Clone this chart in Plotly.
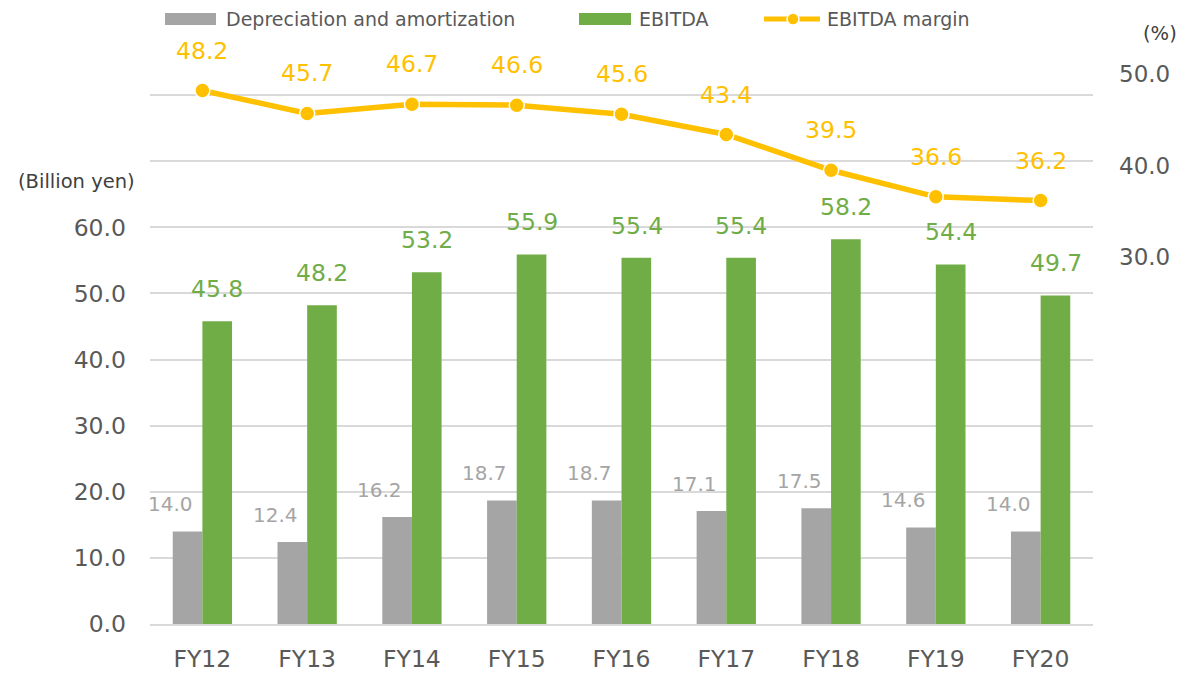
import plotly.graph_objects as go

categories = ["FY12", "FY13", "FY14", "FY15", "FY16", "FY17", "FY18", "FY19", "FY20"]
dep_amort = [14.0, 12.4, 16.2, 18.7, 18.7, 17.1, 17.5, 14.6, 14.0]
ebitda = [45.8, 48.2, 53.2, 55.9, 55.4, 55.4, 58.2, 54.4, 49.7]
margin = [48.2, 45.7, 46.7, 46.6, 45.6, 43.4, 39.5, 36.6, 36.2]

series_names = ["Depreciation and amortization", "EBITDA", "EBITDA margin"]

left_ticks = [0, 10, 20, 30, 40, 50, 60, 70, 80]
left_ticktext = ["0.0", "10.0", "20.0", "30.0", "40.0", "50.0", "60.0", "", ""]
right_ticks = [30, 40, 50]
right_ticktext = ["30.0", "40.0", "50.0"]

GREY = "#A5A5A5"
GREEN = "#70AD47"
ORANGE = "#FFC000"
TEXT = "#595959"
FONT = "DejaVu Sans"

fig = go.Figure()
fig.add_trace(go.Bar(name=series_names[0], x=categories, y=dep_amort,
                     marker=dict(color=GREY, line=dict(width=0)), yaxis="y", showlegend=False))
fig.add_trace(go.Bar(name=series_names[1], x=categories, y=ebitda,
                     marker=dict(color=GREEN, line=dict(width=0)), yaxis="y", showlegend=False))
fig.add_trace(go.Scatter(name=series_names[2], x=categories, y=margin, yaxis="y2",
                         mode="lines+markers", showlegend=False,
                         line=dict(color=ORANGE, width=5.5),
                         marker=dict(color=ORANGE, size=15, line=dict(color="white", width=1.5))))


def px(sx):
    return (sx - 150) / 943


def py(sy):
    return (624 - sy) / 550


ann = []
for c, v in zip(categories, dep_amort):
    ann.append(dict(x=c, y=v, xref="x", yref="y", text=f"{v:.1f}", showarrow=False,
                    xshift=-32, yshift=27, font=dict(color=GREY, size=20, family=FONT)))
for c, v in zip(categories, ebitda):
    ann.append(dict(x=c, y=v, xref="x", yref="y", text=f"{v:.1f}", showarrow=False,
                    xshift=15, yshift=32, font=dict(color=GREEN, size=23.5, family=FONT)))
for c, v in zip(categories, margin):
    ann.append(dict(x=c, y=v, xref="x", yref="y2", text=f"{v:.1f}", showarrow=False,
                    yshift=40, font=dict(color=ORANGE, size=23.5, family=FONT)))
ann.append(dict(x=px(16), y=py(181), xref="paper", yref="paper", text="(Billion yen)",
                showarrow=False, xanchor="left", yanchor="middle",
                font=dict(color="#404040", size=19.5, family=FONT)))
ann.append(dict(x=px(1160), y=py(33), xref="paper", yref="paper", text="(%)",
                showarrow=False, xanchor="center", yanchor="middle",
                font=dict(color="#404040", size=19.5, family=FONT)))

# custom legend (Excel-style wide swatches)
LEG_Y = 19
legend_text_x = [224, 637, 825]
for name, tx in zip(series_names, legend_text_x):
    ann.append(dict(x=px(tx), y=py(LEG_Y), xref="paper", yref="paper", text=name,
                    showarrow=False, xanchor="left", yanchor="middle",
                    font=dict(color=TEXT, size=19, family=FONT)))

shapes = [
    dict(type="rect", xref="paper", yref="paper", x0=px(165), x1=px(216),
         y0=py(LEG_Y + 6), y1=py(LEG_Y - 6), fillcolor=GREY, line=dict(width=0)),
    dict(type="rect", xref="paper", yref="paper", x0=px(579), x1=px(631),
         y0=py(LEG_Y + 6), y1=py(LEG_Y - 6), fillcolor=GREEN, line=dict(width=0)),
    dict(type="line", xref="paper", yref="paper", x0=px(764), x1=px(820),
         y0=py(LEG_Y), y1=py(LEG_Y), line=dict(color=ORANGE, width=5)),
    dict(type="circle", xref="paper", yref="paper", xsizemode="pixel", ysizemode="pixel",
         xanchor=px(793), yanchor=py(LEG_Y), x0=-6, x1=6, y0=-6, y1=6,
         fillcolor=ORANGE, line=dict(color="white", width=1.5)),
]

fig.update_layout(
    width=1201, height=678,
    margin=dict(l=142, r=116, t=66, b=62, autoexpand=False),
    paper_bgcolor="white", plot_bgcolor="white",
    barmode="group", bargap=0.434, bargroupgap=0,
    font=dict(family=FONT, color=TEXT, size=23.5),
    showlegend=False,
    xaxis=dict(type="category", range=[-0.5, 8.5], showgrid=False, showline=True,
               linecolor="#D9D9D9", linewidth=1.5,
               ticks="", tickfont=dict(size=23.5, color=TEXT, family=FONT), ticklabelstandoff=13),
    yaxis=dict(range=[0, 83.2], tickvals=left_ticks, ticktext=left_ticktext, showgrid=True,
               gridcolor="#D9D9D9", gridwidth=1.5, zeroline=False, showline=False,
               tickfont=dict(size=23.5, color=TEXT, family=FONT), ticklabelstandoff=23),
    yaxis2=dict(range=[-10, 50], overlaying="y", side="right", tickvals=right_ticks,
                ticktext=right_ticktext, showgrid=False, zeroline=False, showline=False,
                tickfont=dict(size=23, color=TEXT, family=FONT), ticklabelstandoff=25),
    annotations=ann,
    shapes=shapes,
)

fig.write_html("out.html")
